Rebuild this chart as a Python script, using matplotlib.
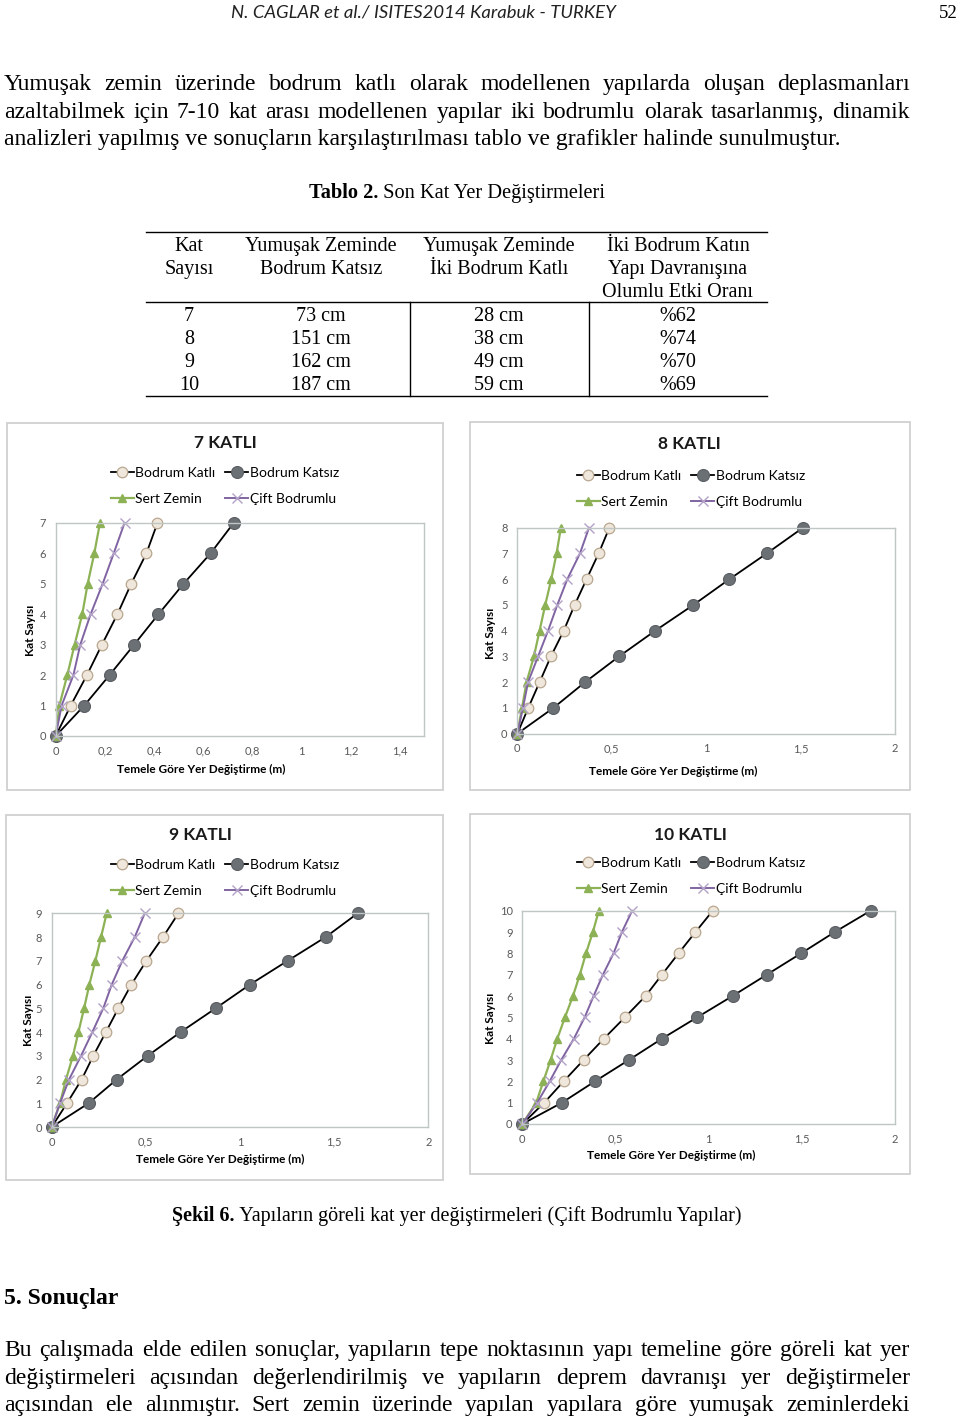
import matplotlib
matplotlib.use("Agg")
import matplotlib.pyplot as plt
from matplotlib.lines import Line2D
from matplotlib.patches import Rectangle
from matplotlib.ticker import FuncFormatter

W, H = 960, 1420
SERIF = "Liberation Serif"
SANS = "Lato"

# --- text of the page ---
header = "N. CAGLAR et al./ ISITES2014 Karabuk - TURKEY"
page_no = "52"
para1 = [
    "Yumuşak zemin üzerinde bodrum katlı olarak modellenen yapılarda oluşan deplasmanları",
    "azaltabilmek için 7-10 kat arası modellenen yapılar iki bodrumlu olarak tasarlanmış, dinamik",
    "analizleri yapılmış ve sonuçların karşılaştırılması tablo ve grafikler halinde sunulmuştur.",
]
para2 = [
    "Bu çalışmada elde edilen sonuçlar, yapıların tepe noktasının yapı temeline göre göreli kat yer",
    "değiştirmeleri açısından değerlendirilmiş ve yapıların deprem davranışı yer değiştirmeler",
    "açısından ele alınmıştır. Sert zemin üzerinde yapılan yapılara göre yumuşak zeminlerdeki",
]

# --- table ---
table_header = [
    ["Kat", "Sayısı"],
    ["Yumuşak Zeminde", "Bodrum Katsız"],
    ["Yumuşak Zeminde", "İki Bodrum Katlı"],
    ["İki Bodrum Katın", "Yapı Davranışına", "Olumlu Etki Oranı"],
]
kat_sayisi = ["7", "8", "9", "10"]
katsiz_cm = ["73 cm", "151 cm", "162 cm", "187 cm"]
iki_bodrum_cm = ["28 cm", "38 cm", "49 cm", "59 cm"]
etki_orani = ["%62", "%74", "%70", "%69"]

# --- chart data: displacement (m) at floors 0..n ---
series_names = ["Bodrum Katlı", "Bodrum Katsız", "Sert Zemin", "Çift Bodrumlu"]

k7_katli = [0, 0.061, 0.127, 0.188, 0.251, 0.307, 0.369, 0.414]
k7_katsiz = [0, 0.116, 0.219, 0.319, 0.418, 0.520, 0.630, 0.724]
k7_sert = [0, 0.015, 0.047, 0.077, 0.108, 0.130, 0.157, 0.180]
k7_cift = [0, 0.024, 0.072, 0.100, 0.142, 0.191, 0.236, 0.280]

k8_katli = [0, 0.058, 0.118, 0.178, 0.246, 0.304, 0.367, 0.431, 0.488]
k8_katsiz = [0, 0.191, 0.359, 0.539, 0.731, 0.933, 1.124, 1.322, 1.514]
k8_sert = [0, 0.025, 0.049, 0.088, 0.118, 0.148, 0.180, 0.208, 0.231]
k8_cift = [0, 0.030, 0.057, 0.110, 0.163, 0.212, 0.265, 0.332, 0.380]

k9_katli = [0, 0.081, 0.159, 0.221, 0.288, 0.354, 0.423, 0.503, 0.591, 0.673]
k9_katsiz = [0, 0.196, 0.345, 0.510, 0.685, 0.871, 1.053, 1.253, 1.455, 1.625]
k9_sert = [0, 0.044, 0.076, 0.113, 0.142, 0.172, 0.200, 0.232, 0.262, 0.292]
k9_cift = [0, 0.044, 0.092, 0.156, 0.216, 0.274, 0.319, 0.375, 0.441, 0.494]

k10_katli = [0, 0.118, 0.222, 0.329, 0.438, 0.551, 0.662, 0.750, 0.839, 0.930, 1.023]
k10_katsiz = [0, 0.213, 0.390, 0.572, 0.750, 0.939, 1.129, 1.313, 1.497, 1.678, 1.871]
k10_sert = [0, 0.075, 0.113, 0.152, 0.188, 0.229, 0.272, 0.309, 0.342, 0.379, 0.411]
k10_cift = [0, 0.080, 0.147, 0.209, 0.277, 0.335, 0.383, 0.433, 0.490, 0.535, 0.590]

fig = plt.figure(figsize=(W / 100, H / 100), dpi=100)
fig.patch.set_facecolor("white")
renderer = fig.canvas.get_renderer()


def fx(x):
    return x / W


def fy(y):
    return 1 - y / H


def put(x, y, s, **kw):
    kw.setdefault("va", "baseline")
    kw.setdefault("family", SERIF)
    return fig.text(fx(x), fy(y), s, **kw)


def width_of(t):
    return t.get_window_extent(renderer).width


def justify(y, line, x0, x1, size):
    words = line.split()
    objs = [put(0, y, w, fontsize=size) for w in words]
    ws = [width_of(o) for o in objs]
    gap = (x1 - x0 - sum(ws)) / (len(words) - 1)
    x = x0
    for o, w in zip(objs, ws):
        o.set_x(fx(x))
        x += w + gap


def bold_plain_center(xc, y, bold, plain, size):
    b = put(0, y, bold, fontsize=size, weight="bold")
    p = put(0, y, plain, fontsize=size)
    wb, wp = width_of(b), width_of(p)
    x0 = xc - (wb + wp) / 2
    b.set_x(fx(x0))
    p.set_x(fx(x0 + wb))


def hline(x0, x1, y, lw=1.0):
    fig.add_artist(Line2D([fx(x0), fx(x1)], [fy(y), fy(y)], color="black", lw=lw))


def vline(x, y0, y1, lw=1.0):
    fig.add_artist(Line2D([fx(x), fx(x)], [fy(y0), fy(y1)], color="black", lw=lw))


# header
put(423, 18, header, family=SANS, style="italic", fontsize=13.3, ha="center", color="#222222")
put(958, 18, page_no, fontsize=13.5, ha="right")

# first paragraph
BODY = 17
justify(90, para1[0], 4, 910, BODY)
justify(118, para1[1], 4, 910, BODY)
put(4, 145, para1[2], fontsize=BODY)

# table
bold_plain_center(457, 198, "Tablo 2.", " Son Kat Yer Değiştirmeleri", 14.7)
TS = 14.5
col_x = [189, 321, 499, 678]
head_y = [251, 274, 297]
for cx, lines in zip(col_x, table_header):
    for yy, s in zip(head_y, lines):
        put(cx, yy, s, fontsize=TS, ha="center")
row_y = [321, 344, 367, 390]
for col, cx in zip([kat_sayisi, katsiz_cm, iki_bodrum_cm, etki_orani], col_x):
    for yy, s in zip(row_y, col):
        put(cx, yy, s, fontsize=TS, ha="center")
hline(146, 767, 232)
hline(146, 767, 302)
hline(146, 767, 396)
vline(410, 302, 396)
vline(589, 302, 396)

# charts
comma = FuncFormatter(lambda v, p: f"{v:g}".replace(".", ","))

charts = [
    dict(title="7 KATLI", data=[k7_katli, k7_katsiz, k7_sert, k7_cift], xmax=1.5,
         ticks=[0, 0.2, 0.4, 0.6, 0.8, 1, 1.2, 1.4],
         area=(55.7, 523, 424.3, 736), box=(7, 423, 443, 790), tpos=(225, 443),
         leg=(111, 467), ylab=(30, 630), xlab=(201, 769)),
    dict(title="8 KATLI", data=[k8_katli, k8_katsiz, k8_sert, k8_cift], xmax=2.0,
         ticks=[0, 0.5, 1, 1.5, 2],
         area=(517.3, 527.7, 894.7, 733.7), box=(470, 422, 910, 790), tpos=(689, 444),
         leg=(577, 470), ylab=(491, 633), xlab=(673, 771)),
    dict(title="9 KATLI", data=[k9_katli, k9_katsiz, k9_sert, k9_cift], xmax=2.0,
         ticks=[0, 0.5, 1, 1.5, 2],
         area=(51.7, 913.3, 428.3, 1127), box=(6, 815, 443, 1180), tpos=(200, 835),
         leg=(111, 859), ylab=(28, 1020), xlab=(220, 1159)),
    dict(title="10 KATLI", data=[k10_katli, k10_katsiz, k10_sert, k10_cift], xmax=2.0,
         ticks=[0, 0.5, 1, 1.5, 2],
         area=(522.3, 910.7, 894.7, 1124), box=(470, 814, 910, 1174), tpos=(690, 835),
         leg=(577, 857), ylab=(491, 1018), xlab=(671, 1155)),
]

styles = [
    dict(color="black", lw=1.3, marker="o", ms=7.6, mfc="#efe7db", mec="#b9a78f", mew=0.9),
    dict(color="black", lw=1.3, marker="o", ms=8.6, mfc="#6b7075", mec="#5a5e62", mew=0.8),
    dict(color="#8db255", lw=1.6, marker="^", ms=5.8, mfc="#8db255", mec="#8db255"),
    dict(color="#8064a2", lw=1.4, marker="x", ms=6.5, mec="#b3a2c7", mew=1.0),
]

for c in charts:
    x0, y0, x1, y1 = c["area"]
    bx0, by0, bx1, by1 = c["box"]
    fig.add_artist(Rectangle((fx(bx0), fy(by1)), fx(bx1 - bx0), (by1 - by0) / H,
                             fill=False, edgecolor="#d0d0d0", lw=1.3))
    ax = fig.add_axes([fx(x0), fy(y1), fx(x1 - x0), (y1 - y0) / H])
    n = len(c["data"][0]) - 1
    floors = list(range(n + 1))
    handles = []
    for name, xs, st in zip(series_names, c["data"], styles):
        ln, = ax.plot(xs, floors, label=name, clip_on=False, **st)
        handles.append(ln)
    ax.set_xlim(0, c["xmax"])
    ax.set_ylim(0, n)
    ax.set_xticks(c["ticks"])
    ax.set_yticks(floors)
    ax.xaxis.set_major_formatter(comma)
    ax.tick_params(length=0, labelsize=8, labelcolor="#595959", pad=7)
    for lab in ax.get_xticklabels() + ax.get_yticklabels():
        lab.set_family(SANS)
    for sp in ax.spines.values():
        sp.set_color("#bfc6c6")
        sp.set_linewidth(1.0)
    ax.set_xlabel("Temele Göre Yer Değiştirme (m)", family=SANS, weight="bold", fontsize=8.5,
                  va="center", ha="center")
    ax.xaxis.set_label_coords(fx(c["xlab"][0]), fy(c["xlab"][1]), transform=fig.transFigure)
    ax.set_ylabel("Kat Sayısı", family=SANS, weight="bold", fontsize=8.5, va="center", ha="center")
    ax.yaxis.set_label_coords(fx(c["ylab"][0]), fy(c["ylab"][1]), transform=fig.transFigure)
    fig.text(fx(c["tpos"][0]), fy(c["tpos"][1]), c["title"], family=SANS, weight="bold",
             fontsize=12.5, ha="center", va="center", color="#1a1a1a")
    order = [handles[0], handles[2], handles[1], handles[3]]
    ax.legend(order, [h.get_label() for h in order], ncol=2, loc="upper left",
              bbox_to_anchor=(fx(c["leg"][0]), fy(c["leg"][1])), bbox_transform=fig.transFigure,
              frameon=False, borderpad=0, borderaxespad=0, handlelength=1.65, handletextpad=0.1,
              columnspacing=0.7, labelspacing=1.0, prop=dict(family=SANS, size=10))

# caption and conclusions
bold_plain_center(457, 1221, "Şekil 6.", " Yapıların göreli kat yer değiştirmeleri (Çift Bodrumlu Yapılar)", 14.5)
put(4, 1304, "5. Sonuçlar", fontsize=17, weight="bold")
for yy, line in zip([1356, 1384, 1411], para2):
    justify(yy, line, 4, 910, BODY)

fig.savefig("out.png", dpi=100, facecolor="white")
